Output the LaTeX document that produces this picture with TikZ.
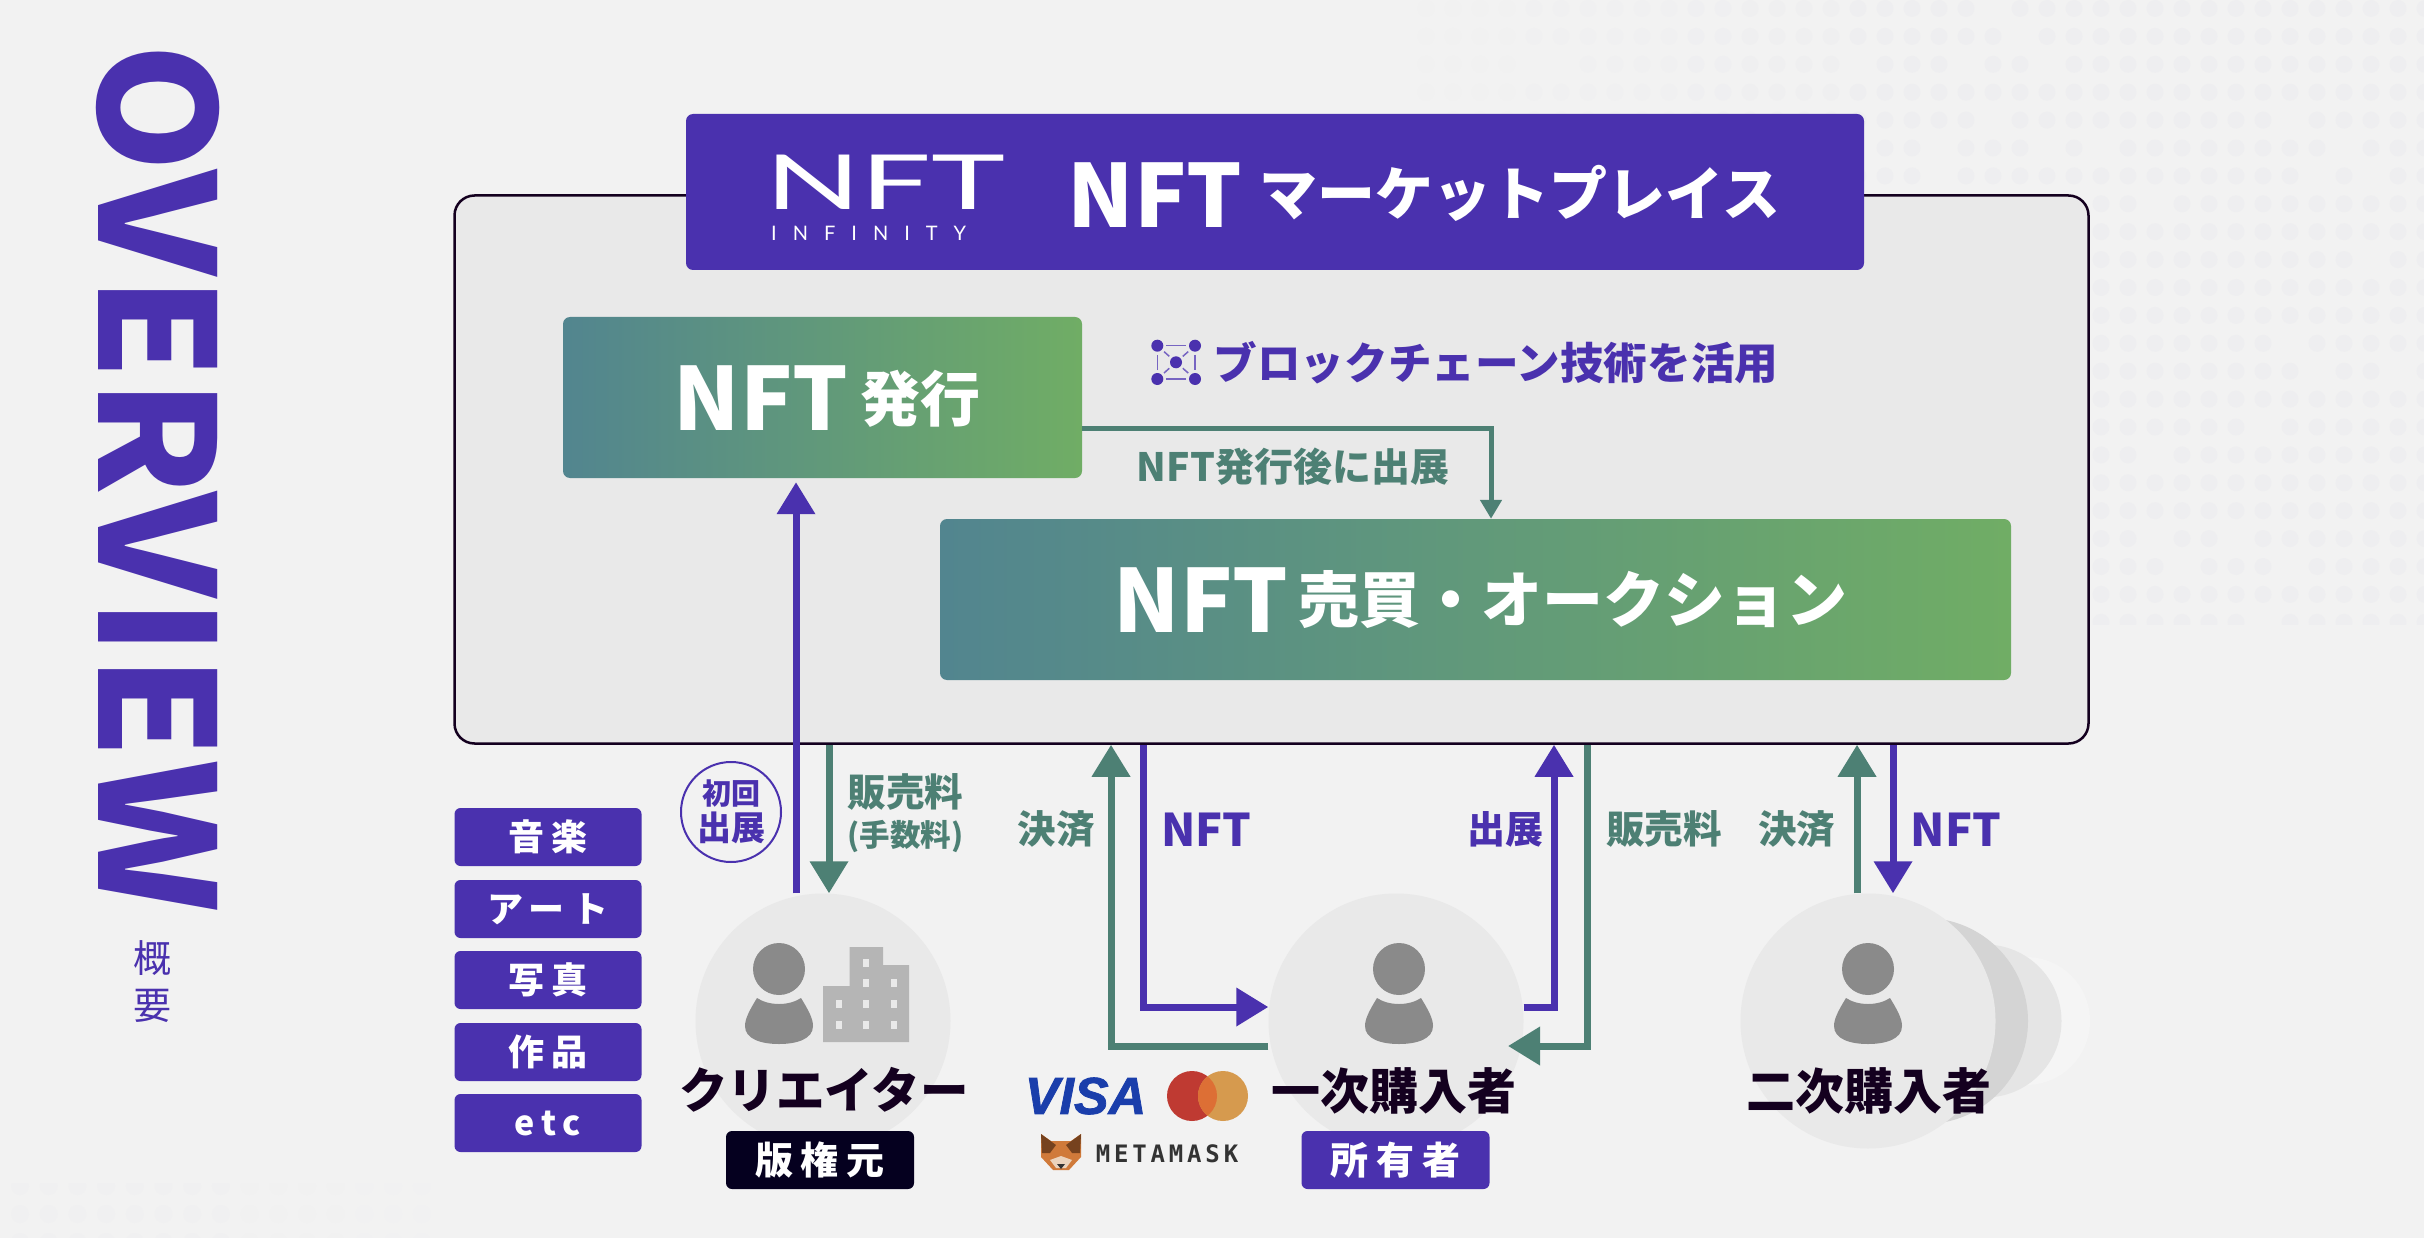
\documentclass[tikz,border=0pt]{standalone}
\usepackage{fontspec}
\usepackage{xcolor}
\usepackage{tikz}
\usetikzlibrary{arrows.meta,positioning,calc}
\setmainfont{Noto Sans CJK JP}
\newfontfamily\logofont{Lato}
\newfontfamily\heavyfont{Noto Sans CJK JP Black}
\newfontfamily\visafont{Liberation Sans}
\newfontfamily\maskfont{DejaVu Sans Mono}
\newcommand{\fsz}[1]{\fontsize{#1}{#1}\selectfont}
\definecolor{nftbg}{HTML}{F2F2F2}
\definecolor{nftpanel}{HTML}{E9E9E9}
\definecolor{nftpurple}{HTML}{4A31AE}
\definecolor{nftgreen}{HTML}{4D8074}
\definecolor{nftink}{HTML}{14001F}
\definecolor{nftnavy}{HTML}{05001F}
\definecolor{nftdot}{HTML}{EEEEF0}
\definecolor{gradl}{HTML}{52858F}
\definecolor{gradr}{HTML}{70AD65}
\definecolor{persongray}{HTML}{8A8A8A}
\definecolor{towergray}{HTML}{B5B5B5}
\definecolor{visablue}{HTML}{1A3EAB}
\definecolor{mcred}{HTML}{BF3A32}
\definecolor{mcgold}{HTML}{D69A4E}
\definecolor{mcmix}{HTML}{DD6F35}
\definecolor{foxfur}{HTML}{D07A3A}
\definecolor{foxear}{HTML}{76421E}
\definecolor{foxmuzzle}{HTML}{EBD3BC}
\tikzset{
  purpleline/.style={draw=nftpurple,line width=7pt},
  greenline/.style={draw=nftgreen,line width=7pt},
  bigtip/.style={-{Triangle[length=32pt,width=37pt]}},
  gradbox/.style={rounded corners=7pt,left color=gradl,right color=gradr,inner sep=0pt},
  tagbox/.style={rounded corners=6pt,fill=nftpurple,text=white,minimum width=187pt,minimum height=58pt,
    inner sep=0pt,font=\fsz{36}\bfseries\addfontfeature{LetterSpace=20}},
  rolebox/.style={tagbox,minimum width=188pt,font=\fsz{38}\bfseries\addfontfeature{LetterSpace=20}},
  disc/.style={circle,fill=nftpanel,minimum size=255pt,inner sep=0pt},
  plabel/.style={text=nftpurple,inner sep=0pt,font=\fsz{38}\bfseries},
  glabel/.style={text=nftgreen,inner sep=0pt,font=\fsz{38.5}\bfseries},
  whom/.style={text=nftink,inner sep=0pt,font=\fsz{49}\bfseries},
  bignft/.style={text=white,inner sep=0pt,font=\fsz{87}\bfseries},
  bigkana/.style={text=white,inner sep=0pt,font=\fsz{58}\bfseries},
  chaindot/.style={circle,fill=nftpurple,minimum size=12pt,inner sep=0pt,outer sep=3pt},
  person/.pic={
    \fill[persongray] (0,0) circle (26pt);
    \fill[persongray] (-22,29) .. controls (-10,37) and (10,37) .. (22,29)
      .. controls (30,42) and (34,50) .. (34,57) .. controls (34,70) and (18,75) .. (0,75)
      .. controls (-18,75) and (-34,70) .. (-34,57) .. controls (-34,50) and (-30,42) .. (-22,29) -- cycle;
  }
}

\begin{document}
\begin{tikzpicture}[x=1pt,y=-1pt]
  \useasboundingbox (0,0) rectangle (2424,1238);
  \fill[nftbg] (0,0) rectangle (2424,1238);

  % dotted texture
  \pgfmathsetseed{11}
  \begin{scope}
    \clip (1410,0) rectangle (2424,624);
    \foreach \i in {0,...,37}{
      \foreach \j in {0,...,22}{
        \pgfmathsetmacro{\hole}{rnd}
        \pgfmathsetmacro{\mixp}{min(100,20+0.16*27*\i)}
        \ifdim\hole pt>0.06pt
          \fill[nftdot!\mixp!nftbg] ({1426+27*\i},{8.5+27.9*\j}) circle (8.5pt);
        \fi
      }
    }
  \end{scope}
  \begin{scope}
    \clip (0,1183) rectangle (500,1238);
    \foreach \i in {0,...,16}{
      \foreach \j in {0,1,2}{
        \pgfmathsetmacro{\mixp}{max(0,60-3.4*\i)}
        \fill[nftdot!\mixp!nftbg] ({20+28.7*\i},{1186+28*\j}) circle (9pt);
      }
    }
  \end{scope}

  \node[rotate=-90,xscale=1.025,text=nftpurple,inner sep=0pt,font=\fsz{160}\heavyfont] (overview) at (158,478) {OVERVIEW};
  \node[text=nftpurple,inner sep=0pt,align=center,font=\fsz{38}] (gaiyo) at (152,981.5) {概\\[9pt]要};

  \node[draw=nftink,line width=2.5pt,fill=nftpanel,rounded corners=20pt,minimum width=1634pt,minimum height=548pt,inner sep=0pt] (frame) at (1271.5,469.5) {};
  \node[rounded corners=7pt,fill=nftpurple,minimum width=1178pt,minimum height=156pt,inner sep=0pt] (mkt) at (1275,192) {};

  \node[text=white,inner sep=0pt,xscale=1.65,font=\fsz{76}\logofont] (logo) at (885.5,182.5) {NFT};
  \node[anchor=west,text=white,inner sep=0pt,font=\fsz{20}\logofont\addfontfeature{LetterSpace=80}] (infinity) at (771,233) {INFINITY};
  \node[bignft] (mktnft) at (1155,195) {NFT};
  \node[bigkana] (mkttext) at (1520,193) {マーケットプレイス};

  \node[gradbox,minimum width=519pt,minimum height=161pt] (issue) at (822.5,397.5) {};
  \node[bignft] (issuenft) at (761,398.5) {NFT};
  \node[bigkana,font=\fsz{60}\bfseries] (issuetext) at (920,399) {発行};

  \node[gradbox,minimum width=1071pt,minimum height=161pt] (sale) at (1475.5,599.5) {};
  \node[bignft] (salenft) at (1201,600.5) {NFT};
  \node[bigkana,font=\fsz{61}\bfseries] (saletext) at (1573,600) {売買・オークション};

  % chain icon
  \node[chaindot] (ca) at (1157.3,345.7) {};
  \node[chaindot] (cb) at (1195,345.7) {};
  \node[chaindot] (cc) at (1157.3,379) {};
  \node[chaindot] (cd) at (1195,379) {};
  \node[chaindot] (ce) at (1176,362.3) {};
  \foreach \a/\b in {ca/cb,cb/cd,cd/cc,cc/ca,ca/ce,cb/ce,cc/ce,cd/ce}
    \draw[draw=nftpurple!75,line width=1.5pt] (\a) -- (\b);
  \node[plabel,font=\fsz{43.6}\bfseries] (chainlabel) at (1496,363) {ブロックチェーン技術を活用};

  \coordinate (elbow) at (1491,428);
  \draw[draw=nftgreen,line width=5pt,-{Triangle[length=19pt,width=21pt]}] (elbow -| issue.east) -| (sale.north -| elbow);
  \node[glabel,font=\fsz{39}\bfseries] (afterlabel) at (1293,467) {NFT発行後に出展};

  % users
  \node[circle,fill=white!20!nftbg,minimum size=128pt,inner sep=0pt] (c3d) at (2026,1021) {};
  \node[circle,fill=black!10,minimum size=153pt,inner sep=0pt] (c3c) at (1985,1021) {};
  \node[circle,fill=black!17,minimum size=206pt,inner sep=0pt] (c3b) at (1925,1021) {};
  \node[disc] (c1) at (823,1021) {};
  \node[disc] (c2) at (1396,1021) {};
  \node[disc] (c3) at (1868,1021) {};
  \pic at (779,969) {person};
  \pic at (1399,969) {person};
  \pic at (1868,969) {person};

  \fill[towergray] (823,1042) |- (849.5,986) |- (883,947) |- (909,965) |- cycle;
  \foreach \wx/\wy in {866/963,866/983,894/983,839/1004,866/1004,894/1004,839/1025,866/1025,894/1025}
    \fill[nftpanel] ({\wx-3},{\wy-4}) rectangle ({\wx+3},{\wy+4});

  \node[whom,font=\fsz{48.5}\bfseries] (creator) at (824,1090) {クリエイター};
  \node[whom] (first) at (1393.5,1091) {一次購入者};
  \node[whom] (second) at (1869,1091) {二次購入者};
  \node[rolebox,fill=nftnavy] (owner) at (820,1160) {版権元};
  \node[rolebox] (holder) at (1395.5,1160) {所有者};

  % genre tags
  \node[tagbox] (t1) at (548,837) {音楽};
  \node[tagbox] (t2) at (548,909) {アート};
  \node[tagbox] (t3) at (548,980) {写真};
  \node[tagbox] (t4) at (548,1052) {作品};
  \node[tagbox,font=\fsz{34}\bfseries\addfontfeature{LetterSpace=20}] (t5) at (548,1123) {etc};

  % payment marks
  \node[text=visablue,inner sep=0pt,font=\fsz{52}\visafont\bfseries\itshape\addfontfeature{FakeBold=1.5}] (visa) at (1085.5,1096) {VISA};
  \node[circle,fill=mcred,minimum size=50pt,inner sep=0pt] (mcl) at (1192,1096) {};
  \node[circle,fill=mcgold,minimum size=50pt,inner sep=0pt] (mcr) at (1223,1096) {};
  \begin{scope}
    \clip (1192,1096) circle (25pt);
    \fill[mcmix] (1223,1096) circle (25pt);
  \end{scope}
  \fill[foxfur] (1041,1134) -- (1051,1141) -- (1071,1141) -- (1081,1134) -- (1081,1157) -- (1069,1170) -- (1053,1170) -- (1041,1157) -- cycle;
  \fill[foxear] (1041,1134) -- (1056,1145) -- (1050,1153) -- (1042,1153) -- cycle;
  \fill[foxear] (1081,1134) -- (1066,1145) -- (1072,1153) -- (1080,1153) -- cycle;
  \fill[foxmuzzle] (1050,1160) -- (1061,1156) -- (1072,1160) -- (1066,1168) -- (1056,1168) -- cycle;
  \fill[black!80] (1057,1164) -- (1065,1164) -- (1061,1169) -- cycle;
  \node[text=black!80,inner sep=0pt,font=\fsz{24}\maskfont\bfseries\addfontfeature{LetterSpace=16}] (mask) at (1167,1153.5) {METAMASK};

  % flows
  \coordinate (fa) at (796,0);
  \coordinate (fb) at (829,0);
  \coordinate (fc) at (1111,0);
  \coordinate (fd) at (1143.5,0);
  \coordinate (fe) at (1554,0);
  \coordinate (ff) at (1587,0);
  \coordinate (fg) at (1857,0);
  \coordinate (fh) at (1893,0);
  \coordinate (hi) at (0,1007);
  \coordinate (lo) at (0,1046);
  \coordinate (tipb) at (1508,1046);

  \draw[purpleline,bigtip,shorten >=4pt] (fa |- c1.north) -- (fa |- issue.south);
  \draw[greenline,bigtip] (fb |- frame.south) -- (fb |- c1.north);
  \draw[greenline,bigtip] (lo -| c2.west) -| (fc |- frame.south);
  \draw[purpleline,bigtip] (fd |- frame.south) |- (hi -| c2.west);
  \draw[purpleline,bigtip] (hi -| c2.east) -| (fe |- frame.south);
  \draw[greenline,bigtip] (ff |- frame.south) |- (tipb);
  \draw[greenline,bigtip] (fg |- c3.north) -- (fg |- frame.south);
  \draw[purpleline,bigtip] (fh |- frame.south) -- (fh |- c3.north);

  \node[circle,draw=nftpurple,line width=2pt,minimum size=100pt,inner sep=0pt,align=center,text=nftpurple,font=\fsz{29}\bfseries] (firsttime) at (731,812) {初回\\[3pt]{\fsz{34}出展}};
  \node[glabel] (feea) at (905.5,792) {販売料};
  \node[glabel,font=\fsz{30.5}\bfseries] (feeb) at (905.5,837) {(手数料)};
  \node[glabel] (paya) at (1056,829) {決済};
  \node[plabel,font=\fsz{45}\bfseries] (nfta) at (1206.5,830) {NFT};
  \node[plabel] (listing) at (1505,829) {出展};
  \node[glabel] (feec) at (1664,829) {販売料};
  \node[glabel] (payb) at (1796.7,829) {決済};
  \node[plabel,font=\fsz{45}\bfseries] (nftb) at (1956,830) {NFT};
\end{tikzpicture}
\end{document}
